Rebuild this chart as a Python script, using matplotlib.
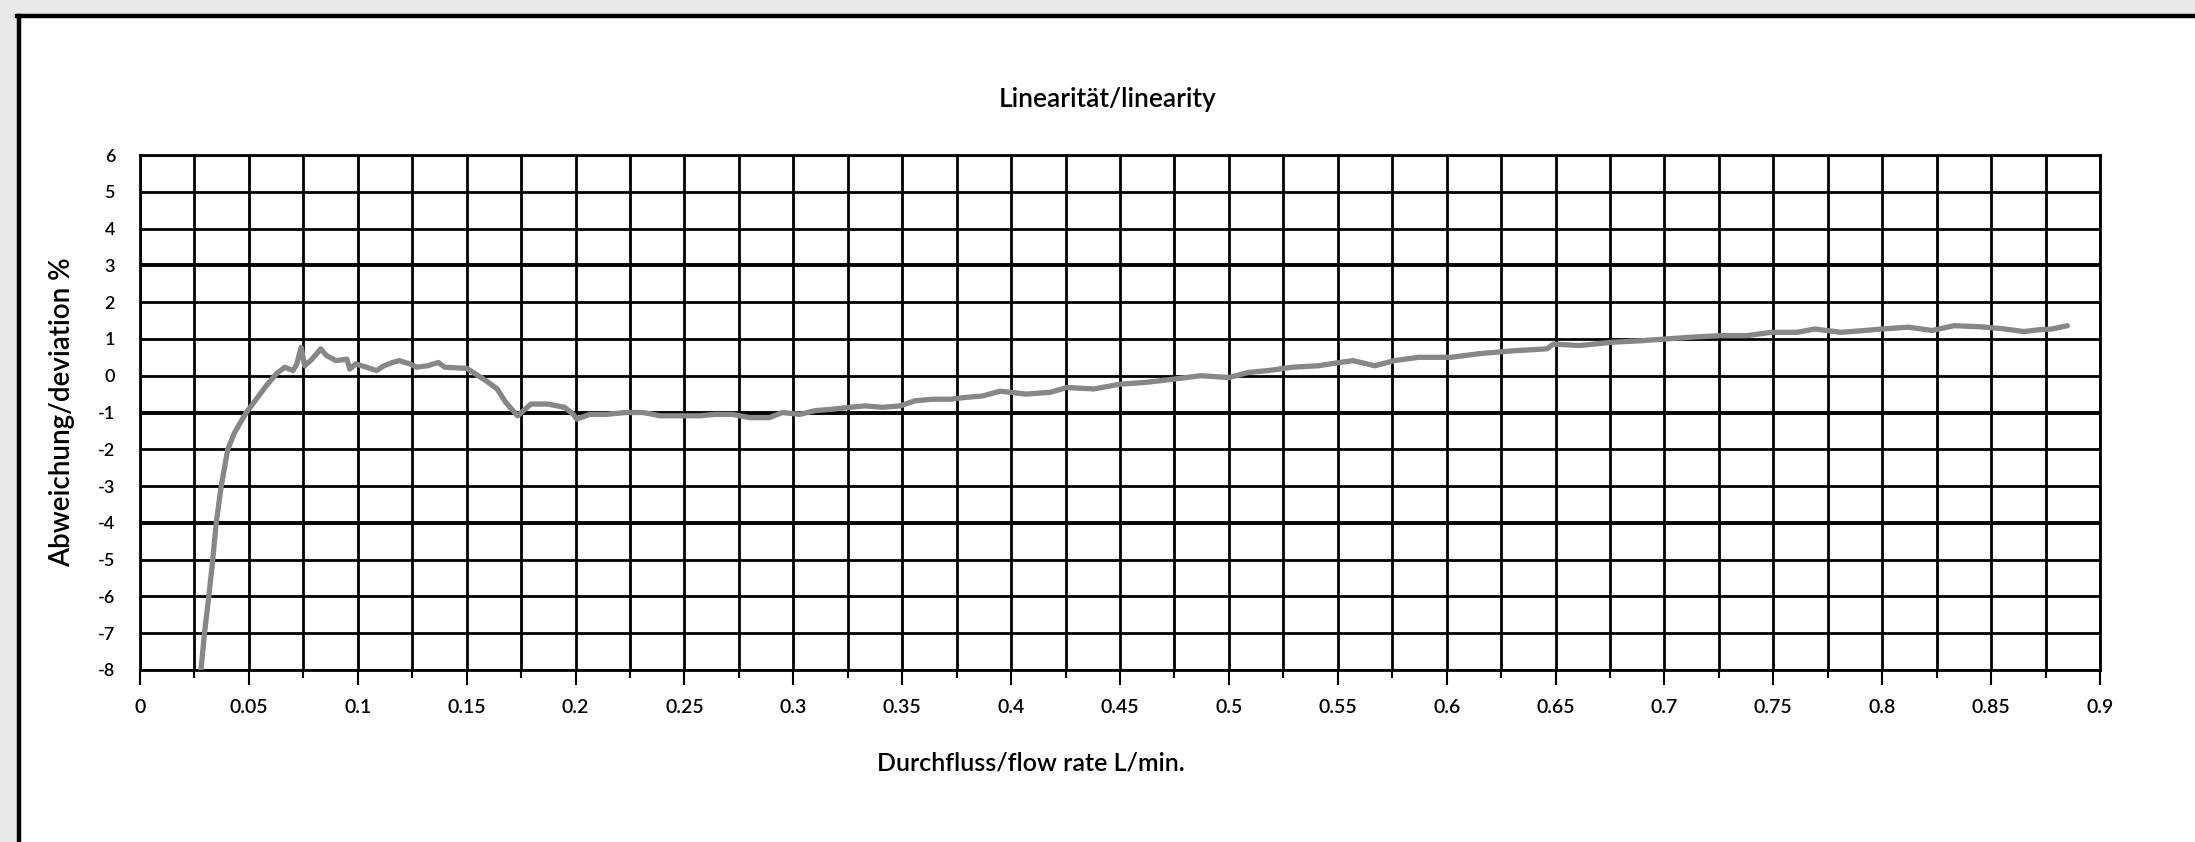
import matplotlib
matplotlib.use("Agg")
import matplotlib.pyplot as plt
from matplotlib.lines import Line2D
from matplotlib.patches import Rectangle
import numpy as np

# curve
flow = [0.028, 0.0296, 0.0316, 0.0334, 0.035, 0.0373, 0.0403, 0.0434, 0.0488, 0.0534,
        0.058, 0.0626, 0.0664, 0.0703, 0.072, 0.074, 0.0756, 0.079, 0.083, 0.0856,
        0.090, 0.095, 0.0963, 0.099, 0.104, 0.1086, 0.112, 0.116, 0.119, 0.124,
        0.127, 0.132, 0.137, 0.14, 0.150, 0.154, 0.159, 0.164, 0.168, 0.1734,
        0.1795, 0.1872, 0.195, 0.199, 0.2005, 0.2066, 0.214, 0.223, 0.231, 0.239,
        0.248, 0.257, 0.264, 0.272, 0.28, 0.289, 0.295, 0.303, 0.31, 0.318,
        0.326, 0.333, 0.341, 0.349, 0.356, 0.364, 0.372, 0.379, 0.387, 0.395,
        0.407, 0.418, 0.4256, 0.438, 0.45, 0.462, 0.475, 0.487, 0.5, 0.509,
        0.518, 0.529, 0.541, 0.551, 0.557, 0.567, 0.576, 0.587, 0.602, 0.615,
        0.631, 0.646, 0.649, 0.661, 0.676, 0.689, 0.701, 0.713, 0.726, 0.738,
        0.749, 0.761, 0.769, 0.781, 0.792, 0.8, 0.812, 0.823, 0.833, 0.845,
        0.855, 0.865, 0.872, 0.878, 0.885]
deviation = [-8.0, -7.0, -6.0, -5.0, -4.0, -3.0, -2.0, -1.55, -1.0, -0.64,
             -0.27, 0.05, 0.23, 0.14, 0.32, 0.77, 0.27, 0.45, 0.73, 0.55,
             0.41, 0.45, 0.18, 0.32, 0.23, 0.14, 0.27, 0.36, 0.41, 0.32,
             0.23, 0.27, 0.36, 0.23, 0.2, 0.05, -0.14, -0.36, -0.73, -1.09,
             -0.77, -0.77, -0.86, -1.05, -1.18, -1.05, -1.05, -1.0, -1.0, -1.09,
             -1.09, -1.09, -1.05, -1.05, -1.14, -1.14, -1.0, -1.05, -0.95, -0.91,
             -0.86, -0.82, -0.86, -0.82, -0.68, -0.64, -0.64, -0.59, -0.55, -0.42,
             -0.5, -0.45, -0.32, -0.36, -0.23, -0.18, -0.09, 0.0, -0.05, 0.09,
             0.14, 0.23, 0.27, 0.36, 0.41, 0.27, 0.41, 0.5, 0.5, 0.6,
             0.68, 0.73, 0.86, 0.82, 0.91, 0.95, 1.0, 1.05, 1.09, 1.09,
             1.18, 1.18, 1.27, 1.18, 1.23, 1.27, 1.32, 1.23, 1.36, 1.33,
             1.28, 1.2, 1.25, 1.27, 1.36]

x_ticks = [0, 0.05, 0.1, 0.15, 0.2, 0.25, 0.3, 0.35, 0.4, 0.45, 0.5, 0.55,
           0.6, 0.65, 0.7, 0.75, 0.8, 0.85, 0.9]
x_tick_labels = ["0", "0.05", "0.1", "0.15", "0.2", "0.25", "0.3", "0.35", "0.4",
                 "0.45", "0.5", "0.55", "0.6", "0.65", "0.7", "0.75", "0.8",
                 "0.85", "0.9"]
y_ticks = [6, 5, 4, 3, 2, 1, 0, -1, -2, -3, -4, -5, -6, -7, -8]

title = "Linearität/linearity"
x_label = "Durchfluss/flow rate L/min."
y_label = "Abweichung/deviation %"

W, H = 2195, 842
plt.rcParams['font.family'] = ['Lato', 'DejaVu Sans']
plt.rcParams['font.weight'] = 'semibold'


def fx(px):
    return px / W


def fy(py):
    return 1 - py / H


fig = plt.figure(figsize=(W / 100, H / 100), dpi=100)
fig.patch.set_facecolor("white")

# scanned paper margin and page frame
fig.add_artist(Rectangle((0, 0), fx(19), 1, transform=fig.transFigure,
                         color="#e9e9e9", zorder=0))
fig.add_artist(Rectangle((0, fy(16)), 1, 1 - fy(16), transform=fig.transFigure,
                         color="#e9e9e9", zorder=0))
fig.add_artist(Line2D([fx(19), fx(19)], [0, fy(16)], transform=fig.transFigure,
                      color="black", lw=3.2))
fig.add_artist(Line2D([fx(17), 1], [fy(16), fy(16)], transform=fig.transFigure,
                      color="black", lw=3.2))

left, right, top, bottom = 140, 2100, 155, 670
ax = fig.add_axes([fx(left), fy(bottom), fx(right - left), fy(top) - fy(bottom)])

ax.set_xlim(0, 0.9)
ax.set_ylim(-8, 6)

# grid
for xv in np.arange(0, 0.9001, 0.025):
    ax.axvline(xv, color="black", lw=2.0, zorder=1)
for yv in y_ticks:
    lw = 2.8 if yv in (3, -1, -4) else 2.0
    ax.axhline(yv, color="black", lw=lw, zorder=1)

ax.plot(flow, deviation, color="#878787", lw=3.8, zorder=3,
        solid_joinstyle="round", solid_capstyle="round")

for s in ax.spines.values():
    s.set_linewidth(2.0)

ax.set_xticks(x_ticks)
ax.set_xticklabels(x_tick_labels, fontsize=14)
ax.set_xticks(np.arange(0.025, 0.9, 0.05), minor=True)
ax.tick_params(axis="x", which="major", direction="out", length=11, width=1.5,
               pad=10, colors="black")
ax.tick_params(axis="x", which="minor", direction="out", length=6, width=1.5)

ax.set_yticks(y_ticks)
ax.set_yticklabels([str(v) for v in y_ticks], fontsize=13)
ax.tick_params(axis="y", length=0, pad=18)

fig.text(fx(1108), fy(100), title, ha="center", va="center", fontsize=19)
fig.text(fx(1031), fy(763), x_label, ha="center", va="center", fontsize=18)
fig.text(fx(62), fy(412), y_label, ha="center", va="center", rotation=90,
         fontsize=20)

fig.savefig("out.png", dpi=100)
